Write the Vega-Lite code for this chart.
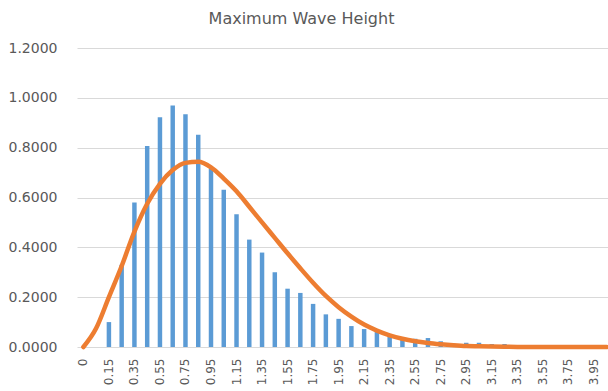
{
  "$schema": "https://vega.github.io/schema/vega-lite/v6.json",
  "autosize": {"type": "none"},
  "padding": {"left": 77, "top": 48, "right": 0, "bottom": 44},
  "width": 531,
  "height": 299,
  "background": "white",
  "title": {"text": "Maximum Wave Height", "anchor": "middle", "dx": -41, "offset": 14, "font": "DejaVu Sans", "fontSize": 16, "fontWeight": "normal", "color": "#595959"},
  "config": {"view": {"stroke": null}},
  "data": {"values": [
    {"h": "0", "freq": 0, "fit": 0},
    {"h": "0.05", "freq": 0, "fit": 0.075},
    {"h": "0.15", "freq": 0.10, "fit": 0.2},
    {"h": "0.25", "freq": 0.33, "fit": 0.325},
    {"h": "0.35", "freq": 0.58, "fit": 0.463},
    {"h": "0.45", "freq": 0.807, "fit": 0.575},
    {"h": "0.55", "freq": 0.922, "fit": 0.655},
    {"h": "0.65", "freq": 0.969, "fit": 0.71},
    {"h": "0.75", "freq": 0.934, "fit": 0.739},
    {"h": "0.85", "freq": 0.852, "fit": 0.743},
    {"h": "0.95", "freq": 0.715, "fit": 0.721},
    {"h": "1.05", "freq": 0.631, "fit": 0.676},
    {"h": "1.15", "freq": 0.533, "fit": 0.625},
    {"h": "1.25", "freq": 0.431, "fit": 0.563},
    {"h": "1.35", "freq": 0.379, "fit": 0.5},
    {"h": "1.45", "freq": 0.30, "fit": 0.438},
    {"h": "1.55", "freq": 0.234, "fit": 0.376},
    {"h": "1.65", "freq": 0.217, "fit": 0.316},
    {"h": "1.75", "freq": 0.173, "fit": 0.258},
    {"h": "1.85", "freq": 0.131, "fit": 0.205},
    {"h": "1.95", "freq": 0.113, "fit": 0.16},
    {"h": "2.05", "freq": 0.084, "fit": 0.122},
    {"h": "2.15", "freq": 0.072, "fit": 0.09},
    {"h": "2.25", "freq": 0.06, "fit": 0.066},
    {"h": "2.35", "freq": 0.047, "fit": 0.047},
    {"h": "2.45", "freq": 0.036, "fit": 0.033},
    {"h": "2.55", "freq": 0.033, "fit": 0.023},
    {"h": "2.65", "freq": 0.036, "fit": 0.016},
    {"h": "2.75", "freq": 0.023, "fit": 0.011},
    {"h": "2.85", "freq": 0.013, "fit": 0.007},
    {"h": "2.95", "freq": 0.017, "fit": 0.004},
    {"h": "3.05", "freq": 0.017, "fit": 0.003},
    {"h": "3.15", "freq": 0.012, "fit": 0.002},
    {"h": "3.25", "freq": 0.012, "fit": 0.001},
    {"h": "3.35", "freq": 0, "fit": 0},
    {"h": "3.45", "freq": 0, "fit": 0},
    {"h": "3.55", "freq": 0, "fit": 0},
    {"h": "3.65", "freq": 0, "fit": 0},
    {"h": "3.75", "freq": 0, "fit": 0},
    {"h": "3.85", "freq": 0, "fit": 0},
    {"h": "3.95", "freq": 0, "fit": 0},
    {"h": "4.05", "freq": 0, "fit": 0}
  ]},
  "encoding": {
    "x": {
      "field": "h", "type": "nominal", "sort": null,
      "scale": {"range": [0, 536], "paddingInner": 0.65, "paddingOuter": 0.325},
      "axis": {
        "title": null, "labelAngle": -90, "labelAlign": "right", "labelBaseline": "middle",
        "labelPadding": 11, "ticks": false, "domain": false, "grid": false,
        "labelFont": "DejaVu Sans", "labelFontSize": 12, "labelColor": "#595959",
        "values": ["0","0.15","0.35","0.55","0.75","0.95","1.15","1.35","1.55","1.75","1.95","2.15","2.35","2.55","2.75","2.95","3.15","3.35","3.55","3.75","3.95"]
      }
    }
  },
  "layer": [
    {
      "mark": {"type": "bar", "color": "#5B9BD5"},
      "encoding": {
        "y": {
          "field": "freq", "type": "quantitative",
          "scale": {"domain": [0, 1.2], "nice": false},
          "axis": {
            "title": null, "values": [0, 0.2, 0.4, 0.6, 0.8, 1.0, 1.2], "format": ".4f",
            "ticks": false, "domain": false, "grid": true, "gridColor": "#D9D9D9", "gridWidth": 1,
            "labelPadding": 20, "labelFont": "DejaVu Sans", "labelFontSize": 14, "labelColor": "#595959"
          }
        }
      }
    },
    {
      "mark": {"type": "line", "color": "#ED7D31", "strokeWidth": 4.5, "interpolate": "monotone", "strokeCap": "round"},
      "encoding": {
        "y": {"field": "fit", "type": "quantitative"}
      }
    }
  ]
}
